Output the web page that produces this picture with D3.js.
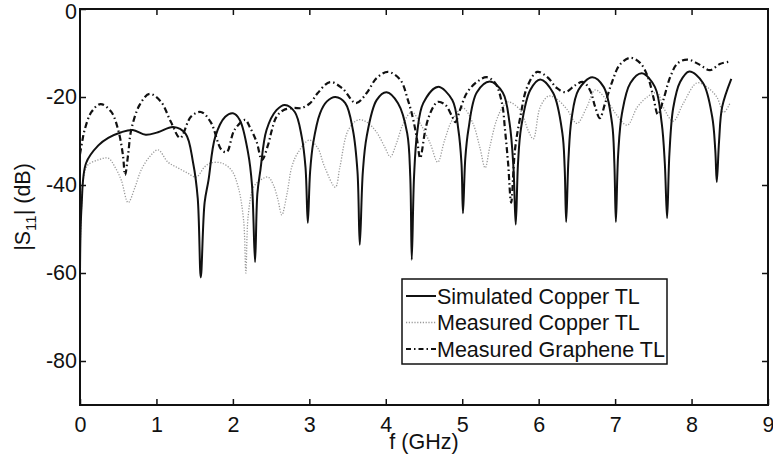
<!DOCTYPE html>
<html>
<head>
<meta charset="utf-8">
<script src="https://cdn.jsdelivr.net/npm/d3@7"></script>
<style>
    body { margin: 0; background: #fff; }
    svg { display: block; font-family: "Liberation Sans", Arial, Helvetica, sans-serif; }
</style>
</head>
<body>
<div id="chart"></div>
<script>
'use strict';

// simulated copper TL
var simFreq = [0.00, 0.02, 0.08, 0.24, 0.37, 0.54, 0.69, 0.86, 1.02, 1.22, 1.38, 1.48, 1.54, 1.58, 1.63, 1.68, 1.77, 1.90, 2.00,
    2.09, 2.20, 2.25, 2.29, 2.32, 2.36, 2.44, 2.57, 2.68, 2.81, 2.90, 2.95, 2.98, 3.01, 3.05, 3.14, 3.23, 3.34, 3.47, 3.57,
    3.63, 3.66, 3.70, 3.75, 3.88, 4.01, 4.16, 4.28, 4.32, 4.34, 4.37, 4.41, 4.49, 4.68, 4.87, 4.95, 4.99, 5.01, 5.04, 5.08,
    5.19, 5.36, 5.53, 5.62, 5.67, 5.70, 5.73, 5.77, 5.89, 6.02, 6.19, 6.31, 6.34, 6.36, 6.39, 6.43, 6.52, 6.70, 6.85, 6.96,
    6.99, 7.01, 7.04, 7.09, 7.20, 7.35, 7.52, 7.61, 7.65, 7.68, 7.71, 7.76, 7.85, 7.97, 8.15, 8.27, 8.31, 8.33, 8.36, 8.40, 8.52];
var simS11 = [-60, -45, -35, -31, -29.3, -28, -27.5, -28.6, -28, -26.8, -28.3, -35, -43, -61, -44, -39, -29, -24.5, -23.7,
    -25.2, -32.8, -40, -57.5, -42, -36.6, -27.5, -23, -21.8, -23.4, -29, -36, -48.6, -37, -30.5, -23.7, -21, -20, -21.4, -27.5,
    -37, -53.6, -37, -29, -20.7, -18.9, -21.4, -28.2, -38, -57, -38, -28.2, -21.4, -17.7, -20.7, -27.5, -35, -46.4, -34, -27.5,
    -19, -16.5, -19, -26, -36, -49, -35, -27, -18.4, -16, -19.1, -28.2, -36, -48.4, -34, -25, -18.4, -15.5, -17.7, -26,
    -35, -48.4, -33, -23.7, -16.8, -14.6, -17.7, -26, -35, -47.5, -33, -22.5, -16.6, -14.2, -16.8, -24.5, -32, -39.3, -30, -22.3, -15.9];

// measured copper TL
var cuFreq = [0.00, 0.02, 0.05, 0.10, 0.24, 0.37, 0.46, 0.54, 0.63, 0.72, 0.80, 0.91, 1.02, 1.15, 1.28, 1.41, 1.52, 1.63, 1.71,
    1.85, 1.98, 2.07, 2.14, 2.17, 2.20, 2.27, 2.36, 2.46, 2.53, 2.59, 2.64, 2.71, 2.77, 2.85, 3.00, 3.11, 3.20, 3.34, 3.40,
    3.51, 3.64, 3.75, 3.88, 3.99, 4.06, 4.14, 4.23, 4.34, 4.45, 4.58, 4.68, 4.77, 4.87, 5.01, 5.14, 5.23, 5.30, 5.36, 5.45,
    5.53, 5.60, 5.76, 5.86, 5.93, 6.02, 6.13, 6.24, 6.37, 6.50, 6.63, 6.74, 6.89, 7.02, 7.16, 7.29, 7.42, 7.55, 7.63, 7.76,
    7.89, 8.07, 8.20, 8.33, 8.42, 8.50];
var cuS11 = [-57, -45, -38, -35.5, -34.3, -33.9, -36, -38.9, -44, -40.5, -36.6, -33.6, -32, -34.8, -36.1, -37.3, -38.2, -35.9, -35,
    -35, -36.6, -40.5, -48, -60, -47, -40.5, -38.9, -38.2, -40, -43.4, -46.8, -41.8, -35.9, -32.7, -29.8, -31.6, -35.9, -40.5, -35.9,
    -27.5, -25.2, -25.7, -28, -31.5, -33.6, -30.5, -26, -23.4, -26, -30.5, -34.8, -29.8, -25.2, -22.5, -26, -31.4, -36.1, -31.4, -25.2,
    -22.3, -21.1, -23, -27.5, -29.5, -22.3, -19.8, -20.5, -22.8, -26, -22.3, -18.4, -20.7, -24.1, -26.4, -22.3, -20, -19, -22.3, -25.5,
    -21.5, -16.8, -17.7, -20, -23.5, -21.5];

// measured graphene TL
var grFreq = [0.00, 0.03, 0.06, 0.15, 0.27, 0.41, 0.50, 0.56, 0.59, 0.63, 0.67, 0.78, 0.91, 1.06, 1.19, 1.31, 1.45, 1.58, 1.71,
    1.85, 1.92, 2.02, 2.16, 2.22, 2.31, 2.38, 2.46, 2.51, 2.57, 2.66, 2.79, 2.90, 3.01, 3.11, 3.27, 3.43, 3.61, 3.75, 3.88,
    4.03, 4.19, 4.29, 4.36, 4.41, 4.45, 4.51, 4.55, 4.62, 4.68, 4.78, 4.87, 4.91, 4.97, 5.06, 5.19, 5.32, 5.43, 5.52, 5.56,
    5.60, 5.64, 5.69, 5.76, 5.85, 5.98, 6.11, 6.24, 6.35, 6.48, 6.58, 6.67, 6.74, 6.80, 6.87, 6.96, 7.06, 7.20, 7.33, 7.43,
    7.50, 7.56, 7.63, 7.72, 7.82, 7.95, 8.11, 8.24, 8.37, 8.48];
var grS11 = [-33, -30, -27.5, -23.4, -21.6, -23.4, -27.5, -33, -37.7, -33, -27.5, -21.8, -19.3, -21.1, -25.7, -29.3, -24.5, -23.4, -25.7,
    -32, -32.5, -27.5, -25.2, -26.8, -30.2, -34.3, -30.9, -27.5, -24.5, -23, -22.5, -22.5, -21.4, -19.1, -16.6, -18, -21.4, -19.1, -15.7,
    -14.3, -16.1, -20.7, -25.2, -29.8, -33.9, -28.2, -25.2, -22.3, -21.1, -21.8, -24.5, -25.7, -23, -19.1, -16.6, -15.5, -16.8, -21.4, -27.5,
    -35, -44, -32, -24.5, -17.7, -14.3, -15.4, -18, -18.9, -17.3, -16.6, -18.4, -22.3, -24.8, -21.4, -16.6, -12.7, -11.1, -12.3, -15.5,
    -20, -24, -20.7, -15.5, -12.3, -11.5, -12.7, -13.9, -12.5, -12];

var xTicks = [0, 1, 2, 3, 4, 5, 6, 7, 8, 9];
var yTicks = [0, -20, -40, -60, -80];
var legendLabels = ['Simulated Copper TL', 'Measured Copper TL', 'Measured Graphene TL'];

var config = {
    width: 773,
    height: 459,
    margin: { top: 9, right: 5, bottom: 54, left: 80 },
    tickSize: 6,
    fontSize: 21.5
};

var styles = [
    { stroke: '#111', width: 2, dash: null },
    { stroke: '#999', width: 1.3, dash: '1.2,1.6' },
    { stroke: '#111', width: 2.2, dash: '6,3,1.5,3' }
];

var zip = function zip(fs, vs) {
    return fs.map(function (f, i) { return { f: f, v: vs[i] }; });
};

var series = [zip(simFreq, simS11), zip(cuFreq, cuS11), zip(grFreq, grS11)];

var innerW = config.width - config.margin.left - config.margin.right;
var innerH = config.height - config.margin.top - config.margin.bottom;

var svg = d3.select('#chart').append('svg')
    .attr('width', config.width)
    .attr('height', config.height);

var g = svg.append('g')
    .attr('transform', 'translate(' + config.margin.left + ',' + config.margin.top + ')');

var x = d3.scaleLinear().domain([0, 9]).range([0, innerW]);
var y = d3.scaleLinear().domain([-90, 0]).range([innerH, 0]);

// data lines
var line = d3.line()
    .x(function (d) { return x(d.f); })
    .y(function (d) { return y(d.v); })
    .curve(d3.curveCatmullRom.alpha(0.5));

g.append('defs').append('clipPath').attr('id', 'clip')
    .append('rect').attr('width', innerW).attr('height', innerH);

var dataLayer = g.append('g').attr('class', 'data').attr('clip-path', 'url(#clip)');

// dotted first, then solid, then dash-dot on top
[1, 0, 2].forEach(function (i) {
    dataLayer.append('path')
        .datum(series[i])
        .attr('fill', 'none')
        .attr('stroke', styles[i].stroke)
        .attr('stroke-width', styles[i].width)
        .attr('stroke-dasharray', styles[i].dash)
        .attr('stroke-linejoin', 'round')
        .attr('d', line);
});

// axes, matlab style: ticks inward on all four sides
var styleAxis = function styleAxis(sel) {
    sel.select('.domain').remove();
    sel.selectAll('.tick line').attr('stroke', '#111').attr('stroke-width', 1.5);
    sel.selectAll('.tick text')
        .attr('fill', '#111')
        .style('font-size', config.fontSize + 'px');
};

var xBottom = g.append('g').attr('transform', 'translate(0,' + innerH + ')')
    .call(d3.axisBottom(x).tickValues(xTicks).tickFormat(d3.format('d'))
        .tickSizeInner(-config.tickSize).tickSizeOuter(0).tickPadding(12));
styleAxis(xBottom);
xBottom.selectAll('.tick text').attr('dy', '0.71em');

var xTop = g.append('g')
    .call(d3.axisTop(x).tickValues(xTicks.slice(1, -1)).tickFormat('')
        .tickSizeInner(-config.tickSize).tickSizeOuter(0));
styleAxis(xTop);

var yLeft = g.append('g')
    .call(d3.axisLeft(y).tickValues(yTicks).tickFormat(d3.format('d'))
        .tickSizeInner(-config.tickSize).tickSizeOuter(0).tickPadding(3));
styleAxis(yLeft);
yLeft.selectAll('.tick text').text(function (d) { return d === 0 ? '0' : '-' + Math.abs(d); });
// keep the top label inside the page
yLeft.selectAll('.tick text').filter(function (d) { return d === 0; }).attr('dy', '0.42em');

var yRight = g.append('g').attr('transform', 'translate(' + innerW + ',0)')
    .call(d3.axisRight(y).tickValues(yTicks.slice(1)).tickFormat('')
        .tickSizeInner(-config.tickSize).tickSizeOuter(0));
styleAxis(yRight);

// box
g.append('rect')
    .attr('width', innerW)
    .attr('height', innerH)
    .attr('fill', 'none')
    .attr('stroke', '#111')
    .attr('stroke-width', 2);

// axis titles
g.append('text')
    .attr('x', innerW / 2)
    .attr('y', innerH + 44)
    .attr('text-anchor', 'middle')
    .style('font-size', config.fontSize + 'px')
    .attr('fill', '#111')
    .text('f (GHz)');

var yTitle = svg.append('text')
    .attr('transform', 'translate(30,' + 207 + ') rotate(-90)')
    .attr('text-anchor', 'middle')
    .style('font-size', config.fontSize + 'px')
    .attr('fill', '#111');
yTitle.append('tspan').text('|S');
yTitle.append('tspan').attr('dy', 6).style('font-size', '15px').text('11');
yTitle.append('tspan').attr('dy', -6).text('| (dB)');

// legend
var legend = g.append('g').attr('transform', 'translate(' + (x(4.22) | 0) + ',' + (y(-61.5) | 0) + ')');

legend.append('rect')
    .attr('width', 265)
    .attr('height', 85)
    .attr('fill', '#fff')
    .attr('stroke', '#111')
    .attr('stroke-width', 1.5);

legendLabels.forEach(function (label, i) {
    var row = legend.append('g').attr('transform', 'translate(0,' + (17 + i * 26.5) + ')');
    row.append('line')
        .attr('x1', 4).attr('x2', 34)
        .attr('stroke', styles[i].stroke)
        .attr('stroke-width', styles[i].width)
        .attr('stroke-dasharray', i === 2 ? '5,3,1.5,3' : styles[i].dash);
    row.append('text')
        .attr('x', 35)
        .attr('dy', '0.36em')
        .style('font-size', config.fontSize + 'px')
        .attr('fill', '#111')
        .text(label);
});
</script>
</body>
</html>
